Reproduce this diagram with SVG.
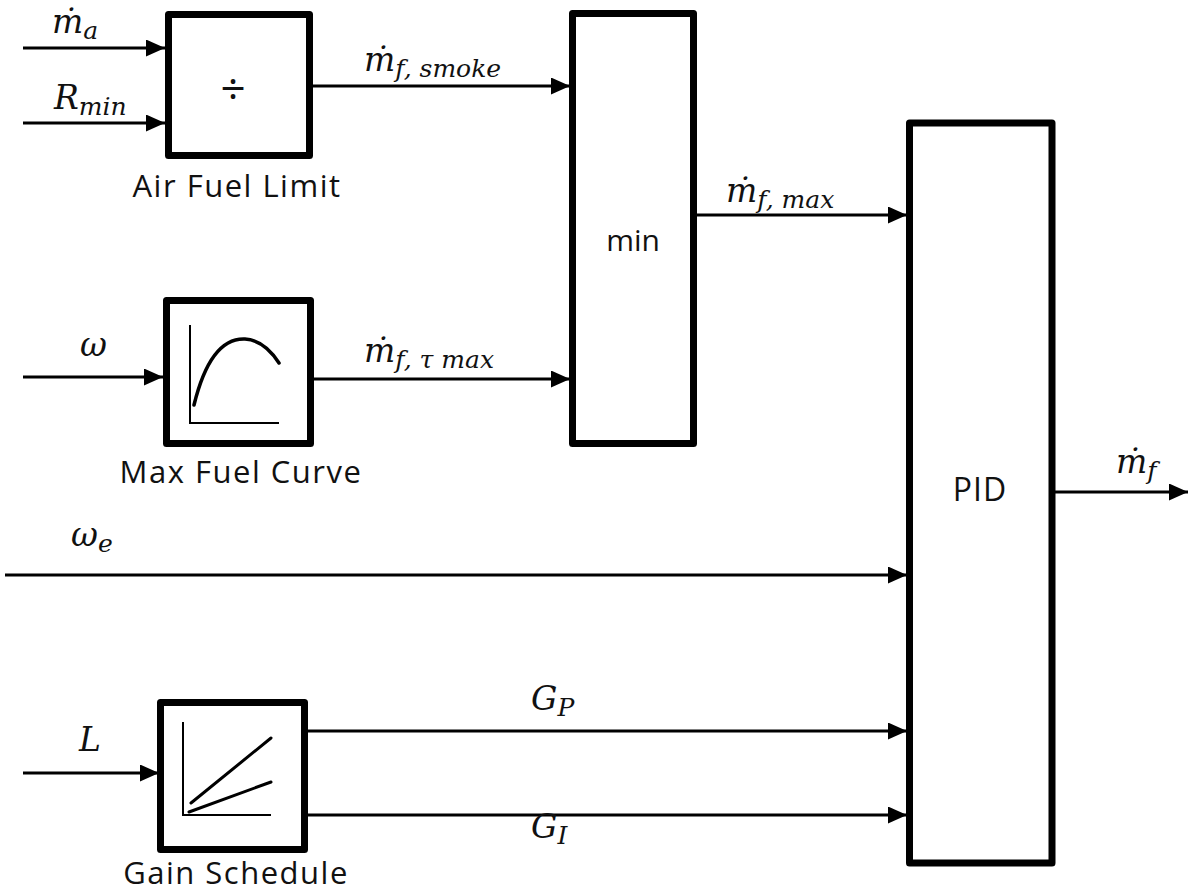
<svg xmlns="http://www.w3.org/2000/svg" width="1188" height="891" viewBox="0 0 1188 891">
<style>
.box{fill:#fff;stroke:#000;stroke-width:7;stroke-linejoin:round}
.wire{fill:none;stroke:#000;stroke-width:3}
.thin{fill:none;stroke:#000;stroke-width:2}
.curve{fill:none;stroke:#000;stroke-width:3.5;stroke-linecap:round}
.lbl{font-family:"Open Sans","Liberation Sans",sans-serif;font-size:31px;letter-spacing:1.5px;fill:#111}
.blk{font-family:"Open Sans","Liberation Sans",sans-serif;font-size:30px;fill:#111}
.m{font-family:"DejaVu Serif","Liberation Serif",serif;font-style:italic;font-size:33px;fill:#111}
.s{font-size:25px}
</style>
<defs>
<marker id="ah" markerUnits="userSpaceOnUse" markerWidth="20" markerHeight="18" refX="19" refY="8.5" orient="auto">
<path d="M0,0 L19,8.5 L0,17 z" fill="#000"/>
</marker>
</defs>
<rect width="1188" height="891" fill="#fff"/>

<g id="connectors">
<line class="wire" x1="23" y1="48" x2="165" y2="48" marker-end="url(#ah)"/>
<line class="wire" x1="23" y1="123" x2="165" y2="123" marker-end="url(#ah)"/>
<line class="wire" x1="312" y1="86" x2="570" y2="86" marker-end="url(#ah)"/>
<line class="wire" x1="23" y1="377" x2="163" y2="377" marker-end="url(#ah)"/>
<line class="wire" x1="313" y1="379" x2="570" y2="379" marker-end="url(#ah)"/>
<line class="wire" x1="696" y1="215" x2="907" y2="215" marker-end="url(#ah)"/>
<line class="wire" x1="5" y1="575" x2="907" y2="575" marker-end="url(#ah)"/>
<line class="wire" x1="23" y1="773" x2="159" y2="773" marker-end="url(#ah)"/>
<line class="wire" x1="307" y1="731" x2="907" y2="731" marker-end="url(#ah)"/>
<line class="wire" x1="307" y1="815" x2="907" y2="815" marker-end="url(#ah)"/>
<line class="wire" x1="1054" y1="492" x2="1188" y2="492" marker-end="url(#ah)"/>
</g>

<g id="labels">
<text class="m" x="52" y="33">ṁ<tspan class="s" dy="6">a</tspan></text>
<text class="m" x="54" y="109">R<tspan class="s" dy="6">min</tspan></text>
<text class="m" x="364" y="71">ṁ<tspan class="s" dy="6">f, smoke</tspan></text>
<text class="m" x="364" y="362">ṁ<tspan class="s" dy="6">f, τ max</tspan></text>
<text class="m" x="726" y="202">ṁ<tspan class="s" dy="6">f, max</tspan></text>
<text class="m" x="1116" y="473">ṁ<tspan class="s" dy="6">f</tspan></text>
<text class="m" x="80" y="356">ω</text>
<text class="m" x="71" y="546">ω<tspan class="s" dy="6">e</tspan></text>
<text class="m" x="79" y="751">L</text>
<text class="m" x="531" y="710">G<tspan class="s" dy="6">P</tspan></text>
<text class="m" x="531" y="838">G<tspan class="s" dy="6">I</tspan></text>
</g>

<g id="air-fuel-limit">
<rect class="box" x="168.5" y="14.5" width="141" height="141"/>
<text class="blk" x="233" y="104" text-anchor="middle" style="font-size:44px">÷</text>
<text class="lbl" x="237" y="197" text-anchor="middle">Air Fuel Limit</text>
</g>

<g id="max-fuel-curve">
<rect class="box" x="166.5" y="300.5" width="144" height="143"/>
<polyline class="thin" points="190,325 190,423 279,423"/>
<path class="curve" d="M194,405 C205,360 222,338 245,339 C262,340 272,352 279,363"/>
<text class="lbl" x="241" y="483" text-anchor="middle">Max Fuel Curve</text>
</g>

<g id="min">
<rect class="box" x="572.5" y="13.5" width="121" height="430"/>
<text class="blk" x="633" y="251" text-anchor="middle">min</text>
</g>

<g id="pid">
<rect class="box" x="909.5" y="123" width="142.5" height="740"/>
<text class="blk" x="980" y="501" text-anchor="middle" style="font-size:32px;letter-spacing:1px">PID</text>
</g>

<g id="gain-schedule">
<rect class="box" x="160.5" y="702.5" width="144" height="147"/>
<polyline class="thin" points="183,722 183,815 271,815"/>
<line class="curve" x1="191" y1="803" x2="271" y2="738" style="stroke-width:3"/>
<line class="curve" x1="189" y1="812" x2="271" y2="782" style="stroke-width:3"/>
<text class="lbl" x="236" y="884" text-anchor="middle">Gain Schedule</text>
</g>
</svg>
